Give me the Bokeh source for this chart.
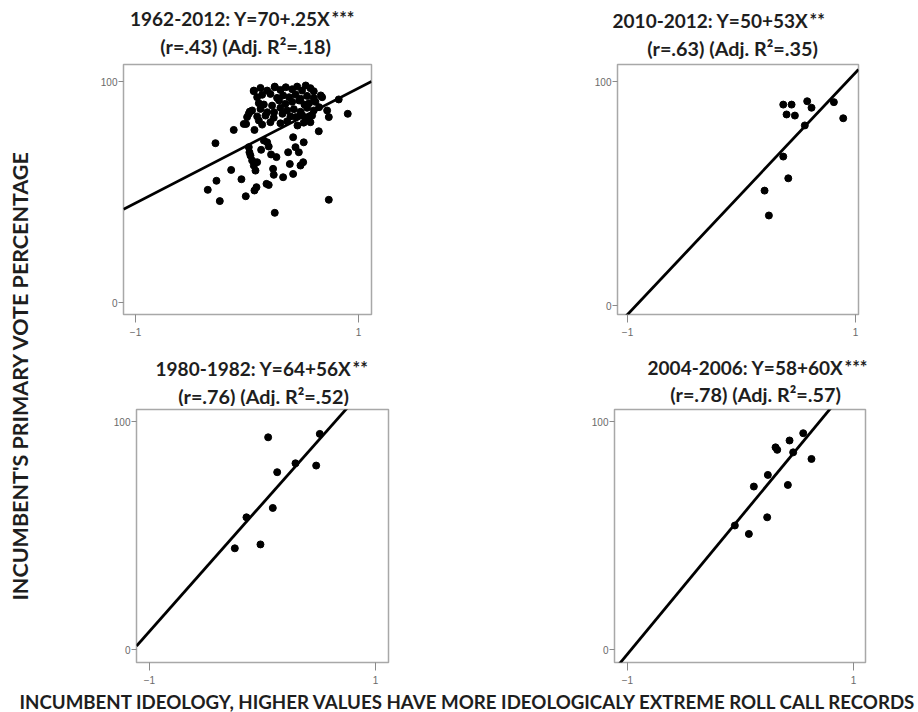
import numpy as np
from bokeh.plotting import figure
from bokeh.layouts import row, column
from bokeh.models import Range1d, FixedTicker
from bokeh.embed import file_html
from bokeh.resources import INLINE
from bokeh.core.properties import value

# ---------------- data ----------------
# Panel 1: 1962-2012
p1_x = [-0.283, -0.352, -0.274, -0.244, -0.142, -0.119, -0.050, -0.011, -0.008, 0.001,
        0.025, 0.061, 0.067, 0.016, 0.022, 0.031, 0.046, 0.061, 0.091, 0.076,
        0.067, 0.085, 0.127, 0.151, 0.181, 0.195, 0.216, 0.234, 0.240, 0.249,
        0.264, 0.249, 0.175, 0.195, 0.324, 0.369, 0.384, 0.414, 0.414, 0.435,
        0.465, 0.480, 0.504, 0.509, 0.554, 0.569, 0.644, 0.674, 0.719, 0.734,
        0.734, 0.823, 0.904,
        0.061, 0.121, 0.181, 0.249, 0.300, 0.348, 0.405, 0.450, 0.494, 0.527, 0.569, 0.599,
        0.091, 0.136, 0.210, 0.270, 0.324, 0.378, 0.435, 0.480, 0.539, 0.599, 0.662,
        0.106, 0.151, 0.225, 0.288, 0.345, 0.405, 0.468, 0.515, 0.557, 0.614,
        0.046, 0.121, 0.181, 0.243, 0.300, 0.360, 0.420, 0.480, 0.539, 0.599, 0.647,
        0.016, 0.091, 0.166, 0.240, 0.318, 0.390, 0.438, 0.494, 0.527, 0.584,
        -0.029, 0.106, 0.136, 0.210, 0.300, 0.360, 0.453, 0.509]
p1_y = [72.1, 51.0, 55.1, 45.9, 60.0, 78.1, 55.8, 48.1, 80.8, 83.9,
        86.4, 95.9, 78.1, 70.3, 68.0, 66.5, 64.3, 62.0, 63.5, 59.7,
        50.7, 52.2, 69.1, 73.3, 72.5, 70.6, 67.0, 60.5, 57.8, 40.6,
        65.8, 97.4, 53.7, 53.2, 56.7, 68.0, 62.7, 58.2, 74.8, 70.3,
        68.0, 62.0, 63.5, 72.5, 83.9, 81.6, 77.5, 92.9, 86.9, 83.9,
        46.5, 91.9, 85.4,
        95.6, 97.1, 95.9, 97.7, 96.2, 97.4, 96.5, 97.7, 95.9, 98.2, 97.0, 95.6,
        92.9, 94.0, 94.4, 92.6, 93.7, 92.9, 94.1, 92.2, 93.5, 92.6, 93.7,
        90.2, 89.6, 89.1, 91.4, 89.9, 90.8, 91.4, 89.6, 90.2, 90.8,
        86.9, 87.6, 86.1, 86.1, 88.1, 86.9, 87.5, 86.3, 88.1, 86.9, 88.4,
        85.4, 84.2, 84.6, 83.6, 85.4, 84.2, 83.9, 84.9, 83.6, 84.6,
        80.8, 82.4, 80.5, 81.6, 81.1, 82.0, 80.1, 81.4]

# Panel 2: 2010-2012
p2_x = [0.366, 0.439, 0.395, 0.468, 0.576, 0.614, 0.810, 0.892, 0.555, 0.366, 0.410, 0.202, 0.240]
p2_y = [89.7, 89.7, 85.3, 84.8, 91.2, 88.3, 90.8, 83.6, 80.4, 66.5, 56.8, 51.3, 40.2]

# Panel 3: 1980-1982
p3_x = [0.050, 0.507, 0.292, 0.475, 0.130, 0.091, -0.142, -0.018, -0.245]
p3_y = [93.1, 94.6, 81.7, 80.7, 77.8, 62.1, 58.0, 46.1, 44.4]

# Panel 4: 2004-2006
p4_x = [0.555, 0.434, 0.310, 0.325, 0.466, 0.628, 0.242, 0.118, 0.419, 0.236, -0.050, 0.074]
p4_y = [94.9, 91.7, 88.7, 87.6, 86.5, 83.6, 76.6, 71.5, 72.2, 58.0, 54.4, 50.7]

# fitted lines (intercept, slope) as drawn
fit_intercepts = [71.0, 50.0, 64.0, 58.0]
fit_slopes = [26.0, 54.0, 56.0, 60.0]

title_line1 = ["1962-2012: Y=70+.25X", "2010-2012: Y=50+53X",
               "1980-1982: Y=64+56X", "2004-2006: Y=58+60X"]
title_stars = ["***", "**", "**", "***"]
title_line2 = ["(r=.43) (Adj. R\u00b2=.18)", "(r=.63) (Adj. R\u00b2=.35)",
               "(r=.76) (Adj. R\u00b2=.52)", "(r=.78) (Adj. R\u00b2=.57)"]

x_ticks = [-1, 1]
y_ticks = [0, 100]

Y_LABEL = "INCUMBENT'S PRIMARY VOTE PERCENTAGE"
X_LABEL = "INCUMBENT IDEOLOGY, HIGHER VALUES HAVE MORE IDEOLOGICALY EXTREME ROLL CALL RECORDS"

TITLE_FONT = "Lato"
TITLE_COLOR = "#1e1e1e"
LEFT = 40          # width of the y-label strip
TOP_H = 59         # height of the upper title strip
BOT_H = 66         # height of the lower title strip
ROW_TOP = 340      # window y where lower title strip starts


def blank(width, height):
    f = figure(width=width, height=height, x_range=Range1d(0, width), y_range=Range1d(0, height),
               output_backend="svg", toolbar_location=None, min_border=0,
               x_axis_location=None, y_axis_location=None)
    f.grid.visible = False
    f.outline_line_color = None
    return f


def add_title(strip, strip_h, y0, i, x_end, y1, x2c, y2):
    # positions given in window pixels, converted to strip coordinates
    kw = dict(text_font=value(TITLE_FONT), text_font_style="bold", text_color=TITLE_COLOR,
              text_baseline="middle")
    strip.text(x=[x_end - LEFT], y=[strip_h - (y1 - y0)], text=[title_line1[i]],
               text_align="right", text_font_size="19px", **kw)
    strip.text(x=[x_end - LEFT + 1], y=[strip_h - (y1 - y0) + 1], text=[title_stars[i]],
               text_align="left", text_font_size="18px", **kw)
    strip.text(x=[x2c - LEFT], y=[strip_h - (y2 - y0)], text=[title_line2[i]],
               text_align="center", text_font_size="19.8px", **kw)


def panel(xs, ys, i, width, height, bl, br, bt, bb, xr, yr):
    p = figure(width=width, height=height, x_range=Range1d(*xr), y_range=Range1d(*yr),
               output_backend="svg", toolbar_location=None,
               min_border_left=bl, min_border_right=br, min_border_top=bt, min_border_bottom=bb)
    p.xgrid.visible = False
    p.ygrid.visible = False
    p.xaxis.ticker = FixedTicker(ticks=x_ticks)
    p.yaxis.ticker = FixedTicker(ticks=y_ticks)
    p.axis.axis_line_color = None
    p.axis.minor_tick_line_color = None
    p.axis.major_tick_line_color = "#8a8a8a"
    p.axis.major_tick_in = 0
    p.xaxis.major_tick_out = 8
    p.xaxis.major_label_standoff = 5
    p.yaxis.major_tick_out = 5
    p.yaxis.major_label_standoff = 1
    p.axis.major_label_text_font = "Liberation Sans"
    p.axis.major_label_text_font_size = "10px"
    p.axis.major_label_text_color = "#6a6a6a"
    p.outline_line_color = "#a8a8a8"
    p.outline_line_width = 1.5
    p.border_fill_color = "white"

    lx = np.array([xr[0], xr[1]])
    ly = fit_intercepts[i] + fit_slopes[i] * lx
    p.line(lx, ly, line_color="black", line_width=2.8)
    p.scatter(xs, ys, size=7, color="black")
    return p


p1 = panel(p1_x, p1_y, 0, 419, 340 - TOP_H, 83, 88, 64 - TOP_H, 26, (-1.108, 1.117), (-5.4, 107.7))
p2 = panel(p2_x, p2_y, 1, 459, 340 - TOP_H, 158, 60, 64 - TOP_H, 26, (-1.088, 1.026), (-4.0, 107.6))
p3 = panel(p3_x, p3_y, 2, 419, 352 - BOT_H, 96, 71, 69 - BOT_H, 30, (-1.115, 1.115), (-5.7, 105.3))
p4 = panel(p4_x, p4_y, 3, 459, 352 - BOT_H, 155, 53, 69 - BOT_H, 30, (-1.115, 1.106), (-5.7, 105.3))

top_titles = blank(878, TOP_H)
add_title(top_titles, TOP_H, 0, 0, 330, 18, 245, 45)
add_title(top_titles, TOP_H, 0, 1, 808, 20, 732, 47)

bot_titles = blank(878, BOT_H)
add_title(bot_titles, BOT_H, ROW_TOP, 2, 351, 368, 263, 395)
add_title(bot_titles, BOT_H, ROW_TOP, 3, 843, 367, 755, 393)

ylab = blank(LEFT, 692)
ylab.text(x=[19], y=[317], text=[Y_LABEL], angle=np.pi / 2, text_align="center",
          text_baseline="middle", text_font=value(TITLE_FONT), text_font_style="bold",
          text_font_size="21.5px", text_color=TITLE_COLOR)

xlab = blank(918, 20)
xlab.text(x=[468], y=[11], text=[X_LABEL], text_align="center", text_baseline="middle",
          text_font=value(TITLE_FONT), text_font_style="bold", text_font_size="18.7px",
          text_color=TITLE_COLOR)

layout = column(row(ylab, column(top_titles, row(p1, p2), bot_titles, row(p3, p4))), xlab)

open("out.html", "w").write(file_html(layout, INLINE))
